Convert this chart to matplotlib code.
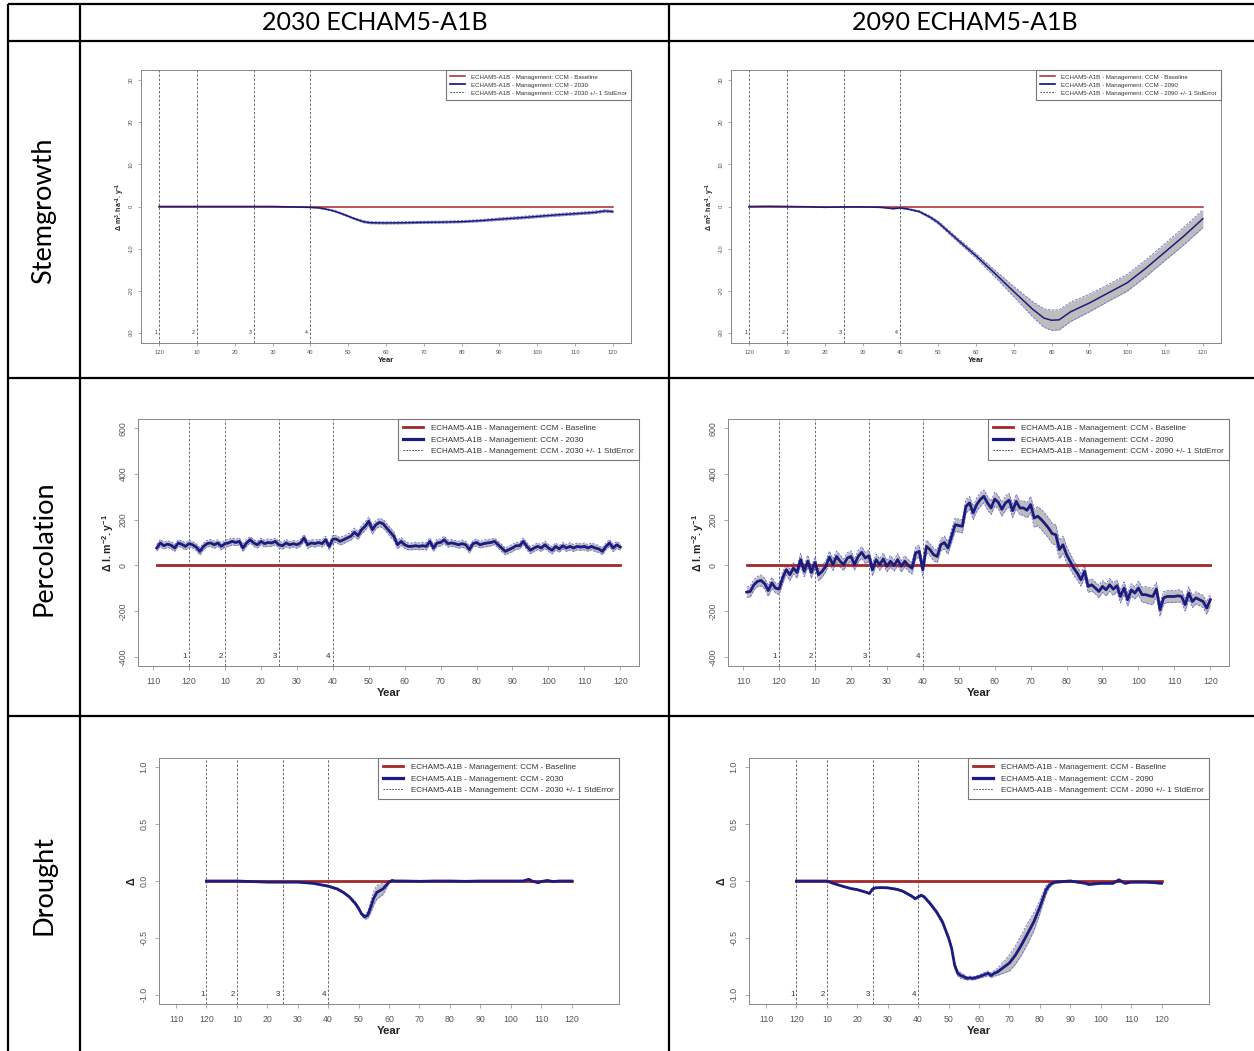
import numpy as np
import matplotlib.pyplot as plt
from matplotlib.lines import Line2D

plt.rcParams['mathtext.fontset'] = 'custom'
plt.rcParams['mathtext.rm'] = 'Liberation Sans'
plt.rcParams['mathtext.bf'] = 'Liberation Sans:bold'

W, H = 1254, 1051
RFONT = ['Liberation Sans Narrow', 'Liberation Sans', 'DejaVu Sans']
TFONT = ['Lato', 'DejaVu Sans']

# ---------------- data ----------------
col_titles = ['2030 ECHAM5-A1B', '2090 ECHAM5-A1B']
row_titles = ['Stemgrowth', 'Percolation', 'Drought']
scen_years = ['2030', '2090']

period_x = [0, 10, 25, 40]
period_lab = ['1', '2', '3', '4']

# Stemgrowth
stem_x_2030 = [0, 10, 20, 30, 35, 40, 42, 44, 46, 48, 50, 52, 54, 56, 60, 65, 70, 75, 80, 85,
               90, 95, 100, 105, 110, 115, 118, 120]
stem_y_2030 = [0, 0, 0, 0, -0.1, -0.2, -0.3, -0.6, -1.0, -1.6, -2.3, -3.0, -3.6, -3.85, -3.9,
               -3.85, -3.75, -3.7, -3.6, -3.35, -3.0, -2.7, -2.35, -2.0, -1.7, -1.4, -1.05, -1.2]
stem_se_2030 = [0.05, 0.05, 0.05, 0.05, 0.1, 0.1, 0.1, 0.15, 0.15, 0.2, 0.2, 0.2, 0.25, 0.25,
                0.25, 0.25, 0.25, 0.25, 0.25, 0.25, 0.3, 0.3, 0.3, 0.3, 0.3, 0.3, 0.3, 0.3]

stem_x_2090 = [0, 5, 10, 15, 20, 25, 30, 35, 38, 40, 42, 45, 48, 50, 55, 60, 65, 70, 75, 78,
               80, 82, 85, 90, 95, 100, 103, 105, 110, 115, 120]
stem_y_2090 = [0, 0.05, 0, -0.05, -0.2, -0.1, -0.1, -0.2, -0.5, -0.35, -0.6, -1.2, -2.6, -3.8,
               -7.8, -11.7, -15.9, -20.2, -24.4, -26.5, -27.0, -26.9, -25.0, -22.9, -20.5,
               -18.1, -16.0, -14.6, -10.8, -7.0, -2.9]
stem_se_2090 = [0.05, 0.05, 0.05, 0.05, 0.05, 0.05, 0.05, 0.1, 0.1, 0.1, 0.15, 0.2, 0.3, 0.35,
                0.45, 0.55, 0.8, 1.2, 1.8, 2.2, 2.4, 2.4, 2.3, 2.1, 2.0, 2.0, 2.0, 2.0, 2.0,
                2.1, 2.1]

# Percolation (yearly, -9 .. 120)
perc_x = list(range(-9, 121))
perc_y_2030 = [76, 98, 86, 93, 88, 76, 98, 92, 83,
               95, 90, 80, 61, 83, 95, 98, 90, 98, 83,
               95, 98, 105, 100, 105, 76, 98, 112, 98, 90,
               105, 95, 100, 98, 105, 90, 86, 98, 90, 95,
               90, 98, 120, 90, 98, 95, 100, 95, 112, 83,
               115, 115, 105, 112, 120, 127, 145, 130, 156, 171,
               193, 156, 178, 188, 182, 163, 145, 127, 90, 105,
               90, 83, 83, 86, 83, 86, 83, 105, 76, 98,
               100, 112, 95, 98, 95, 90, 95, 90, 69, 95,
               100, 90, 95, 98, 100, 105, 90, 76, 61, 69,
               76, 86, 86, 105, 83, 66, 76, 83, 76, 90,
               76, 66, 83, 72, 86, 76, 83, 76, 83, 80,
               83, 76, 83, 76, 72, 61, 83, 98, 76, 90,
               80]
perc_se_2030 = [14, 15, 15, 14, 16, 15, 14, 15, 16,
                15, 14, 15, 16, 15, 14, 15, 16, 14, 15,
                15, 16, 15, 14, 15, 16, 15, 14, 15, 15,
                14, 15, 16, 15, 14, 15, 15, 16, 15, 14,
                15, 14, 15, 16, 15, 15, 14, 15, 16, 15,
                16, 15, 16, 17, 16, 17, 18, 17, 18, 18,
                18, 19, 18, 18, 19, 18, 20, 19, 18, 17,
                16, 15, 15, 16, 15, 15, 16, 15, 15, 16,
                15, 16, 15, 15, 14, 15, 16, 15, 15, 14,
                15, 14, 15, 16, 15, 14, 15, 16, 15, 15,
                16, 15, 14, 15, 16, 15, 15, 14, 15, 16,
                15, 16, 15, 15, 14, 15, 16, 15, 15, 14,
                15, 14, 15, 16, 15, 15, 14, 15, 16, 15,
                15]
perc_y_2090 = [-117, -114, -85, -70, -66, -80, -110, -77, -99,
               -104, -55, -19, -41, -12, -31, 25, -26, 18, -31,
               13, -41, -26, -4, 36, 3, 39, 18, 3, 32,
               39, 3, 39, 57, 32, 42, -19, 25, 3, 28,
               -4, 18, -1, 25, -4, 18, -1, -12, 54, 61,
               -19, 83, 69, 47, 39, 90, 100, 76, 127, 178,
               174, 171, 258, 273, 229, 266, 288, 302, 273, 251,
               290, 276, 245, 273, 285, 239, 280, 251, 251, 241,
               266, 207, 215, 200, 182, 163, 139, 134, 69, 90,
               47, 18, -12, -34, -63, -26, -92, -85, -99, -114,
               -92, -107, -85, -104, -89, -136, -99, -150, -107, -121,
               -99, -128, -128, -133, -136, -104, -194, -142, -136, -136,
               -136, -133, -136, -172, -121, -158, -142, -150, -158, -187,
               -150]
perc_se_2090 = [22, 24, 23, 22, 24, 23, 25, 24, 22,
                24, 25, 23, 26, 24, 25, 27, 24, 26, 25,
                24, 26, 25, 24, 26, 25, 24, 26, 25, 24,
                25, 24, 26, 25, 24, 25, 26, 24, 25, 26,
                24, 25, 24, 26, 25, 24, 25, 26, 27, 26,
                28, 27, 26, 28, 27, 26, 28, 27, 28, 29,
                28, 29, 30, 28, 29, 30, 29, 28, 30, 29,
                30, 29, 30, 31, 30, 29, 31, 30, 32, 33,
                35, 40, 42, 44, 45, 44, 45, 43, 40, 38,
                36, 34, 32, 30, 28, 27, 26, 27, 26, 27,
                26, 27, 28, 27, 26, 28, 27, 28, 27, 26,
                30, 33, 35, 36, 35, 30, 28, 27, 26, 27,
                26, 27, 26, 28, 27, 26, 27, 26, 27, 26,
                26]

# Drought
dro_x_2030 = [0, 5, 10, 15, 20, 25, 30, 35, 40,
              43, 45, 47, 49, 50, 51, 52, 53, 54, 55, 56,
              58, 59, 60, 61, 62, 65, 70, 75, 80, 85, 90, 95, 100,
              104, 106, 107, 109, 110, 112, 114, 116, 120]
dro_y_2030 = [0, 0, 0, -0.005, -0.01, -0.01, -0.01, -0.02, -0.045,
              -0.07, -0.1, -0.14, -0.2, -0.24, -0.29, -0.315, -0.3, -0.23, -0.15, -0.1,
              -0.07, -0.04, -0.01, 0.005, 0, 0, -0.003, 0, 0, -0.003, 0, 0, 0,
              0, 0.015, 0, -0.015, -0.005, 0.005, -0.005, 0, 0]
dro_se_2030 = [0.002, 0.002, 0.002, 0.003, 0.004, 0.005, 0.005, 0.006, 0.008,
               0.01, 0.01, 0.012, 0.015, 0.015, 0.015, 0.02, 0.03, 0.05, 0.06, 0.06,
               0.05, 0.03, 0.01, 0.005, 0.003, 0.003, 0.003, 0.003, 0.003, 0.003, 0.003,
               0.003, 0.003,
               0.004, 0.006, 0.006, 0.006, 0.004, 0.004, 0.004, 0.003, 0.003]

dro_x_2090 = [0, 5, 10, 12, 15, 18, 20, 23, 24, 25, 26, 28, 30, 33, 35, 38, 39, 40, 41, 42,
              44, 46, 48, 50, 51, 52, 53, 54, 55, 56, 57, 58, 60, 62, 63, 64, 65, 66, 68, 70,
              72, 74, 76, 78, 80, 81, 82, 83, 84, 85, 90, 95, 96, 100, 104, 106, 108, 110,
              115, 118, 120]
dro_y_2090 = [0, 0, 0, -0.02, -0.045, -0.067, -0.076, -0.1, -0.11, -0.07,
              -0.06, -0.058, -0.06, -0.073, -0.09, -0.135, -0.155, -0.14, -0.125, -0.14,
              -0.2, -0.27, -0.36, -0.5, -0.59, -0.74, -0.81, -0.83, -0.84, -0.855,
              -0.85, -0.855, -0.84, -0.82, -0.81, -0.83, -0.81, -0.8, -0.76, -0.72,
              -0.65, -0.56, -0.46, -0.36, -0.23, -0.155, -0.08, -0.04, -0.02, -0.01,
              0, -0.02, -0.03, -0.02, -0.02, 0.01, -0.02, -0.01, -0.01, -0.015,
              -0.02]
dro_se_2090 = [0.002, 0.002, 0.003, 0.004, 0.005, 0.006, 0.006, 0.007, 0.007, 0.007,
               0.007, 0.007, 0.007, 0.008, 0.008, 0.01, 0.01, 0.01, 0.01, 0.012,
               0.015, 0.015, 0.02, 0.02, 0.02, 0.025, 0.025, 0.025, 0.02, 0.015,
               0.015, 0.015, 0.015, 0.02, 0.02, 0.02, 0.025, 0.03, 0.05, 0.07,
               0.08, 0.09, 0.09, 0.08, 0.06, 0.05, 0.04, 0.025, 0.015, 0.01,
               0.008, 0.008, 0.008, 0.008, 0.008, 0.008, 0.008, 0.008, 0.008, 0.008,
               0.008]

stem_xt = list(range(0, 121, 10))
stem_xtl = ['120'] + [str(v) for v in range(10, 121, 10)]
long_xt = list(range(-10, 121, 10))
long_xtl = ['110', '120'] + [str(v) for v in range(10, 121, 10)]

RED = '#a3282a'
NAVY = '#1c1c80'
SEC = '#6a6ad8'
BAND = '#bdbdbd'
TXT = '#555555'

# per-row settings
rows = [
    dict(ylim=(-32.4, 32.4), yt=[-30, -20, -10, 0, 10, 20, 30],
         ytl=['-30', '-20', '-10', '0', '10', '20', '30'],
         ylab=r'$\mathbf{\Delta\ m^3.ha^{-1}.y^{-1}}$',
         xlim=(-4.8, 124.8), xt=stem_xt, xtl=stem_xtl, fs=4.2, lw=1.1, lfs=4.4,
         data=[(stem_x_2030, stem_y_2030, stem_se_2030), (stem_x_2090, stem_y_2090, stem_se_2090)],
         boxes=[(141, 70, 631, 343), (731, 70, 1221, 343)]),
    dict(ylim=(-440, 640), yt=[-400, -200, 0, 200, 400, 600],
         ytl=['-400', '-200', '0', '200', '400', '600'],
         ylab=r'$\mathbf{\Delta\ l.m^{-2}.y^{-1}}$',
         xlim=(-14.2, 125.2), xt=long_xt, xtl=long_xtl, fs=6.3, lw=2.0, lfs=5.8,
         data=[(perc_x, perc_y_2030, perc_se_2030), (perc_x, perc_y_2090, perc_se_2090)],
         boxes=[(138, 419, 639, 666), (728, 419, 1229, 666)]),
    dict(ylim=(-1.08, 1.08), yt=[-1.0, -0.5, 0.0, 0.5, 1.0],
         ytl=['-1.0', '-0.5', '0.0', '0.5', '1.0'],
         ylab=r'$\mathbf{\Delta}$',
         xlim=(-15.6, 135.6), xt=long_xt, xtl=long_xtl, fs=6.3, lw=2.0, lfs=5.8,
         data=[(dro_x_2030, dro_y_2030, dro_se_2030), (dro_x_2090, dro_y_2090, dro_se_2090)],
         boxes=[(159, 758, 619, 1004), (749, 758, 1209, 1004)]),
]


def px_box(l, t, r, b):
    return [l / W, 1 - b / H, (r - l) / W, (b - t) / H]


def makePanel(fig, row, col):
    box = row['boxes'][col]
    x, y, se = row['data'][col]
    x = np.array(x, dtype=float)
    y = np.array(y, dtype=float)
    se = np.array(se, dtype=float)
    fs = row['fs']
    lw = row['lw']

    ax = fig.add_axes(px_box(*box))
    ax.set_xlim(*row['xlim'])
    ax.set_ylim(*row['ylim'])

    for p, lab in zip(period_x, period_lab):
        ax.axvline(p, color='#555555', lw=0.6, ls=(0, (3, 2)), zorder=1)
        ax.annotate(lab, (p, row['yt'][0]), xytext=(-1.5, 0), textcoords='offset points',
                    ha='right', va='center', fontsize=fs * 0.9, color='#333333', family=RFONT)

    ax.fill_between(x, y - se, y + se, color=BAND, lw=0, zorder=2)
    ax.plot(x, y - se, color=SEC, lw=0.6, ls=(0, (3, 1.5)), zorder=3)
    ax.plot(x, y + se, color=SEC, lw=0.6, ls=(0, (3, 1.5)), zorder=3)
    ax.plot(x, np.zeros_like(x), color=RED, lw=lw, zorder=4)
    ax.plot(x, y, color=NAVY, lw=lw, zorder=5)

    ax.set_xticks(row['xt'])
    ax.set_xticklabels(row['xtl'], family=RFONT)
    ax.set_yticks(row['yt'])
    ax.set_yticklabels(row['ytl'], family=RFONT, rotation=90, va='center')
    ax.tick_params(labelsize=fs, colors='#888888', labelcolor=TXT, length=fs * 0.5,
                   width=0.5, pad=fs * 0.7)
    for s in ax.spines.values():
        s.set_color('#888888')
        s.set_linewidth(0.7)

    ax.set_xlabel('Year', fontsize=fs * 1.3, fontweight='bold', family=RFONT, color='#222222',
                  labelpad=fs * 0.3)
    ax.set_ylabel(row['ylab'], fontsize=fs * 1.2, color='#222222', labelpad=fs * 0.3)

    yr = scen_years[col]
    labels = ['ECHAM5-A1B - Management: CCM - Baseline',
              'ECHAM5-A1B - Management: CCM - ' + yr,
              'ECHAM5-A1B - Management: CCM - ' + yr + ' +/- 1 StdError']
    handles = [Line2D([], [], color=RED, lw=lw),
               Line2D([], [], color=NAVY, lw=lw * 1.15),
               Line2D([], [], color='#333333', lw=0.6, ls=(0, (2, 1.5)))]
    leg = ax.legend(handles, labels, loc='upper right', borderaxespad=0, fancybox=False,
                    framealpha=1, edgecolor='#777777', prop=dict(family=RFONT, size=row['lfs']),
                    handlelength=2.4, labelspacing=0.45, borderpad=0.7, handletextpad=1.0)
    leg.get_frame().set_linewidth(0.8)
    for t in leg.get_texts():
        t.set_color('#333333')
    return ax


fig = plt.figure(figsize=(W / 100, H / 100), dpi=100)

# table grid
ax0 = fig.add_axes([0, 0, 1, 1])
ax0.set_xlim(0, W)
ax0.set_ylim(H, 0)
ax0.axis('off')
for xv in [8, 80, 669]:
    ax0.plot([xv, xv], [4, H], color='black', lw=1.6, solid_capstyle='butt')
for yv in [4, 41, 378, 716]:
    ax0.plot([8, W], [yv, yv], color='black', lw=1.6, solid_capstyle='butt')

for xc, title in zip([375, 965], col_titles):
    ax0.text(xc, 23, title, ha='center', va='center', fontsize=18, family=TFONT)
for yc, title in zip([211, 548, 885], row_titles):
    ax0.text(44, yc, title, ha='center', va='center', rotation=90, fontsize=19.5,
             family=TFONT)

for row in rows:
    for col in range(2):
        makePanel(fig, row, col)

fig.savefig('out.png', dpi=100)
